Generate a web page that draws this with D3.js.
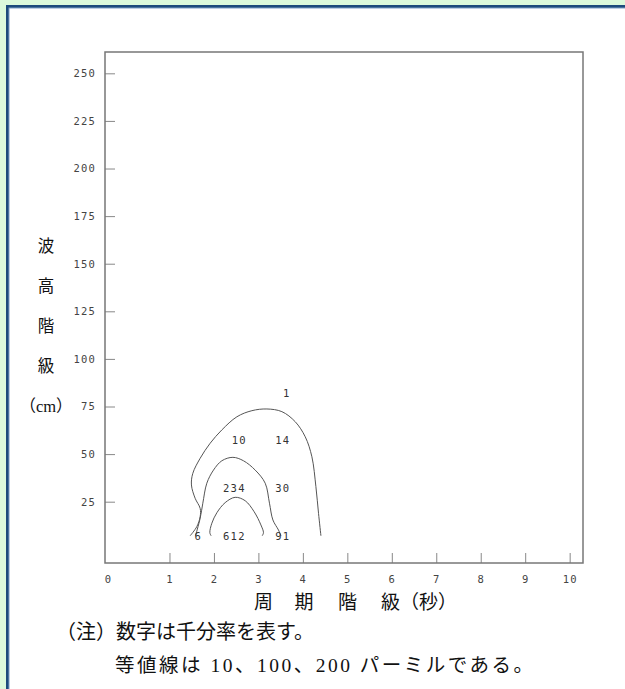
<!DOCTYPE html>
<html lang="ja">
<head>
<meta charset="utf-8">
<script src="https://cdn.jsdelivr.net/npm/d3@7"></script>
<style>
  html, body { margin: 0; padding: 0; background: #ffffff; overflow: hidden; }
  svg { display: block; position: absolute; left: 0; top: 0; }
</style>
</head>
<body>
<svg id="chart" width="625" height="689"></svg>
<script>
// Period classes (s) shown on the horizontal axis
const periodTicks = [1, 2, 3, 4, 5, 6, 7, 8, 9, 10];
// Wave-height classes (cm) shown on the vertical axis
const heightTicks = [25, 50, 75, 100, 125, 150, 175, 200, 225, 250];

// Per-mille frequency written in each cell: position (period, height) and value
const cellPeriods = [3.64, 2.57, 3.55, 2.46, 3.55, 1.65, 2.46, 3.55];
const cellHeights = [82, 57, 57, 32, 32, 6.6, 6.6, 6.6];
const cellValues  = [1, 10, 14, 234, 30, 6, 612, 91];

// Iso-lines: [period, height] vertices
const contour10 = [
  [1.465, 7.1], [1.615, 11.9], [1.690, 17.1], [1.690, 21.5], [1.577, 26.8],
  [1.494, 33.8], [1.525, 39.9], [1.690, 47.8], [1.915, 55.7], [2.178, 62.7],
  [2.516, 69.6], [2.853, 72.8], [3.191, 73.7], [3.528, 72.3], [3.828, 67.0],
  [4.053, 59.1], [4.203, 48.6], [4.293, 32.9], [4.352, 18.9], [4.406, 7.1]
];
const contour100 = [
  [1.585, 7.1], [1.690, 16.3], [1.750, 24.2], [1.840, 34.7], [1.990, 41.6],
  [2.178, 46.5], [2.426, 48.3], [2.664, 46.5], [2.928, 41.6], [3.153, 34.7],
  [3.249, 24.2], [3.326, 15.4], [3.452, 10.1], [3.506, 7.1]
];
const contour200 = [
  [1.937, 7.1], [1.908, 8.7], [1.953, 13.7], [2.066, 19.2], [2.252, 24.5],
  [2.477, 27.3], [2.703, 25.5], [2.905, 19.7], [3.056, 12.8], [3.114, 8.7],
  [3.085, 7.1]
];

const yTitleChars = ["波", "高", "階", "級", "（cm）"];
const noteLines = ["（注）数字は千分率を表す。", "等値線は 10、100、200 パーミルである。"];

const svg = d3.select("#chart");

// Page panel with its blue frame on the top and left
svg.append("rect").attr("x", 0).attr("y", 0).attr("width", 625).attr("height", 689).attr("fill", "#dcfadc");
svg.append("rect").attr("x", 6).attr("y", 5).attr("width", 630).attr("height", 700).attr("fill", "#1d4b7c");
svg.append("rect").attr("x", 8.5).attr("y", 7.5).attr("width", 630).attr("height", 700).attr("fill", "#7d9fc4");
svg.append("rect").attr("x", 9.5).attr("y", 8.5).attr("width", 630).attr("height", 700).attr("fill", "#ffffff");

const plotLeft = 105, plotRight = 583, plotTop = 52, plotBottom = 563;
const x = d3.scaleLinear().domain([-0.45, 10.3]).range([plotLeft, plotRight]);
const y = d3.scaleLinear().domain([-7.2, 261.2]).range([plotBottom, plotTop]);

const tickFont = "'DejaVu Sans Mono', monospace";

// Y axis (ticks pointing inward)
const yAxis = svg.append("g")
  .attr("transform", `translate(${plotLeft},0)`)
  .call(d3.axisLeft(y).tickValues(heightTicks).tickSize(-10).tickPadding(9));
yAxis.select(".domain").remove();

// X axis
const xAxis = svg.append("g")
  .attr("transform", `translate(0,${plotBottom})`)
  .call(d3.axisBottom(x).tickValues(periodTicks).tickSize(-10).tickPadding(13));
xAxis.select(".domain").remove();

[yAxis, xAxis].forEach(g => {
  g.selectAll(".tick line").attr("stroke", "#888").attr("stroke-width", 1);
  g.selectAll(".tick text")
    .attr("fill", "#444")
    .style("font-family", tickFont)
    .style("font-size", "10.5px")
    .style("letter-spacing", "1.2px");
});

// Origin label
svg.append("text")
  .attr("x", plotLeft + 3).attr("y", plotBottom + 13).attr("dy", "0.71em")
  .attr("text-anchor", "middle")
  .attr("fill", "#444")
  .style("font-family", tickFont).style("font-size", "10.5px")
  .text("0");

// Plot frame
svg.append("rect")
  .attr("x", plotLeft).attr("y", plotTop)
  .attr("width", plotRight - plotLeft).attr("height", plotBottom - plotTop)
  .attr("fill", "none").attr("stroke", "#777").attr("stroke-width", 1.5);

// Iso-lines
const line = d3.line()
  .x(d => x(d[0])).y(d => y(d[1]))
  .curve(d3.curveCatmullRom.alpha(0.5));
svg.append("g").selectAll("path")
  .data([contour10, contour100, contour200])
  .join("path")
  .attr("d", line)
  .attr("fill", "none")
  .attr("stroke", "#555")
  .attr("stroke-width", 1);

// Cell values
svg.append("g").selectAll("text")
  .data(cellValues)
  .join("text")
  .attr("x", (d, i) => x(cellPeriods[i]))
  .attr("y", (d, i) => y(cellHeights[i]))
  .attr("dy", "0.35em")
  .attr("text-anchor", "middle")
  .attr("fill", "#333")
  .style("font-family", tickFont)
  .style("font-size", "10.5px")
  .style("letter-spacing", "1.2px")
  .text(d => d);

const jpFont = "'Liberation Serif', 'Noto Sans CJK JP', serif";

// Vertical axis title, one character block per row
svg.append("g").selectAll("text")
  .data(yTitleChars)
  .join("text")
  .attr("x", 46)
  .attr("y", (d, i) => 246 + i * 40)
  .attr("dy", "0.35em")
  .attr("text-anchor", "middle")
  .attr("fill", "#111")
  .style("font-family", jpFont)
  .style("font-size", "16.5px")
  .text(d => d);

// Horizontal axis title
const xTitle = [["周", 263.5, "middle"], ["期", 304, "middle"], ["階", 347.5, "middle"], ["級（秒）", 381, "start"]];
svg.append("g").selectAll("text")
  .data(xTitle)
  .join("text")
  .attr("x", d => d[1])
  .attr("y", 602)
  .attr("dy", "0.35em")
  .attr("text-anchor", d => d[2])
  .attr("fill", "#111")
  .style("font-family", jpFont)
  .style("font-size", "19px")
  .text(d => d[0]);

// Notes
svg.append("text")
  .attr("x", 56).attr("y", 632).attr("dy", "0.35em")
  .attr("fill", "#111")
  .style("font-family", jpFont).style("font-size", "20px")
  .text(noteLines[0]);
svg.append("text")
  .attr("x", 115).attr("y", 665).attr("dy", "0.35em")
  .attr("fill", "#111")
  .style("font-family", jpFont).style("font-size", "19.5px")
  .style("letter-spacing", "2.5px")
  .text(noteLines[1]);
</script>
</body>
</html>
